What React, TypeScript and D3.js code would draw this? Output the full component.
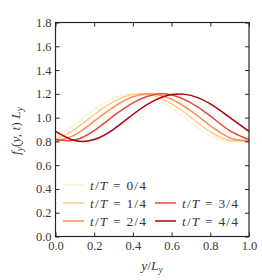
import React, { useEffect, useRef } from 'react'
import * as d3 from 'd3'

/* chart box 262 x 280, plot frame */
const width = 262
const height = 280
const margin = { top: 22.5, right: 13, bottom: 43.5, left: 55.5 }

/* positions along y/L_y where the curves were read */
const yPos = [0, 0.1, 0.2, 0.3, 0.4, 0.5, 0.6, 0.7, 0.8, 0.9, 1.0]

/* f_y(y,t) L_y for each snapshot */
const t0 = [0.838, 0.944, 1.067, 1.162, 1.2, 1.168, 1.078, 0.957, 0.846, 0.8, 0.838]
const t1 = [0.816, 0.902, 1.026, 1.134, 1.194, 1.187, 1.115, 1.002, 0.88, 0.807, 0.816]
const t2 = [0.801, 0.855, 0.97, 1.089, 1.175, 1.199, 1.154, 1.056, 0.932, 0.831, 0.801]
const t3 = [0.815, 0.811, 0.89, 1.014, 1.124, 1.191, 1.191, 1.124, 1.014, 0.89, 0.815]
const t4 = [0.885, 0.807, 0.816, 0.902, 1.026, 1.134, 1.194, 1.187, 1.115, 1.002, 0.885]

const labels = ['0/4', '1/4', '2/4', '3/4', '4/4']
const colors = d3.schemeOrRd[5]

const xTicks = [0, 0.2, 0.4, 0.6, 0.8, 1.0]
const yTicks = [0, 0.2, 0.4, 0.6, 0.8, 1.0, 1.2, 1.4, 1.6, 1.8]

/* legend slots (column, row) for each series */
const legendSlots = [
    [0, 0],
    [0, 1],
    [0, 2],
    [1, 1],
    [1, 2],
]

const font = '"Liberation Serif", "DejaVu Serif", serif'
const ink = '#262626'
const textInk = '#3a3a3a'

const xScale = d3
    .scaleLinear()
    .domain([0, 1])
    .range([margin.left, width - margin.right])
const yScale = d3
    .scaleLinear()
    .domain([0, 1.8])
    .range([height - margin.bottom, margin.top])

const series = [t0, t1, t2, t3, t4]

const line = d3
    .line<number>()
    .x((d, i) => xScale(yPos[i]))
    .y((d) => yScale(d))
    .curve(d3.curveNatural)

export default function App() {
    const bottomRef = useRef<SVGGElement>(null)
    const leftRef = useRef<SVGGElement>(null)
    const topRef = useRef<SVGGElement>(null)
    const rightRef = useRef<SVGGElement>(null)

    useEffect(() => {
        const style = (g: any) => {
            g.select('.domain').remove()
            g.selectAll('line').attr('stroke', ink).attr('stroke-width', 1)
            g.selectAll('text')
                .attr('fill', textInk)
                .style('font-family', font)
                .style('font-size', '12.5px')
        }
        /* ticks point inwards, labels only bottom and left */
        d3.select(bottomRef.current)
            .call(d3.axisBottom(xScale).tickValues(xTicks).tickSize(-4).tickPadding(5).tickFormat(d3.format('.1f')))
            .call(style)
        d3.select(leftRef.current)
            .call(d3.axisLeft(yScale).tickValues(yTicks).tickSize(-4).tickPadding(4).tickFormat(d3.format('.1f')))
            .call(style)
        d3.select(topRef.current)
            .call(d3.axisTop(xScale).tickValues(xTicks).tickSize(-4).tickFormat(() => ''))
            .call(style)
        d3.select(rightRef.current)
            .call(d3.axisRight(yScale).tickValues(yTicks).tickSize(-4).tickFormat(() => ''))
            .call(style)
    }, [])

    const x0 = margin.left
    const x1 = width - margin.right
    const y0 = margin.top
    const y1 = height - margin.bottom

    return (
        <svg
            width={width}
            height={height}
            style={{ position: 'absolute', left: 0, top: 0, background: '#fff' }}
        >
            {/* curves */}
            {series.map((s, i) => (
                <path key={i} d={line(s) || ''} fill="none" stroke={colors[i]} strokeWidth={1.5} />
            ))}

            {/* legend */}
            {series.map((s, i) => {
                const [col, row] = legendSlots[i]
                const lx = col === 0 ? 63 : 155
                const ly = 185 + row * 18
                return (
                    <g key={i}>
                        <line x1={lx} x2={lx + 21} y1={ly} y2={ly} stroke={colors[i]} strokeWidth={1.5} />
                        <text
                            x={lx + 27}
                            y={ly + 4.5}
                            fontFamily={font}
                            fontSize={13.5}
                            fill={textInk}
                            textLength={56}
                            lengthAdjust="spacing"
                        >
                            <tspan fontStyle="italic">t</tspan>
                            <tspan>/</tspan>
                            <tspan fontStyle="italic">T</tspan>
                            <tspan> = {labels[i]}</tspan>
                        </text>
                    </g>
                )
            })}

            {/* axes */}
            <g ref={bottomRef} transform={`translate(0, ${y1})`} />
            <g ref={leftRef} transform={`translate(${x0}, 0)`} />
            <g ref={topRef} transform={`translate(0, ${y0})`} />
            <g ref={rightRef} transform={`translate(${x1}, 0)`} />
            <rect x={x0} y={y0} width={x1 - x0} height={y1 - y0} fill="none" stroke={ink} strokeWidth={1.2} />

            {/* axis titles */}
            <text x={152} y={270} textAnchor="middle" fontFamily={font} fontSize={13.5} fill={textInk}>
                <tspan fontStyle="italic">y</tspan>
                <tspan>/</tspan>
                <tspan fontStyle="italic">L</tspan>
                <tspan fontStyle="italic" fontSize={9.5} dy={3}>y</tspan>
            </text>
            <text
                transform={`translate(20, 131) rotate(-90)`}
                textAnchor="middle"
                fontFamily={font}
                fontSize={13.5}
                fill={textInk}
            >
                <tspan fontStyle="italic">f</tspan>
                <tspan fontStyle="italic" fontSize={9.5} dy={3}>y</tspan>
                <tspan dy={-3}>(</tspan>
                <tspan fontStyle="italic">y, t</tspan>
                <tspan>) </tspan>
                <tspan fontStyle="italic">L</tspan>
                <tspan fontStyle="italic" fontSize={9.5} dy={3}>y</tspan>
            </text>
        </svg>
    )
}
